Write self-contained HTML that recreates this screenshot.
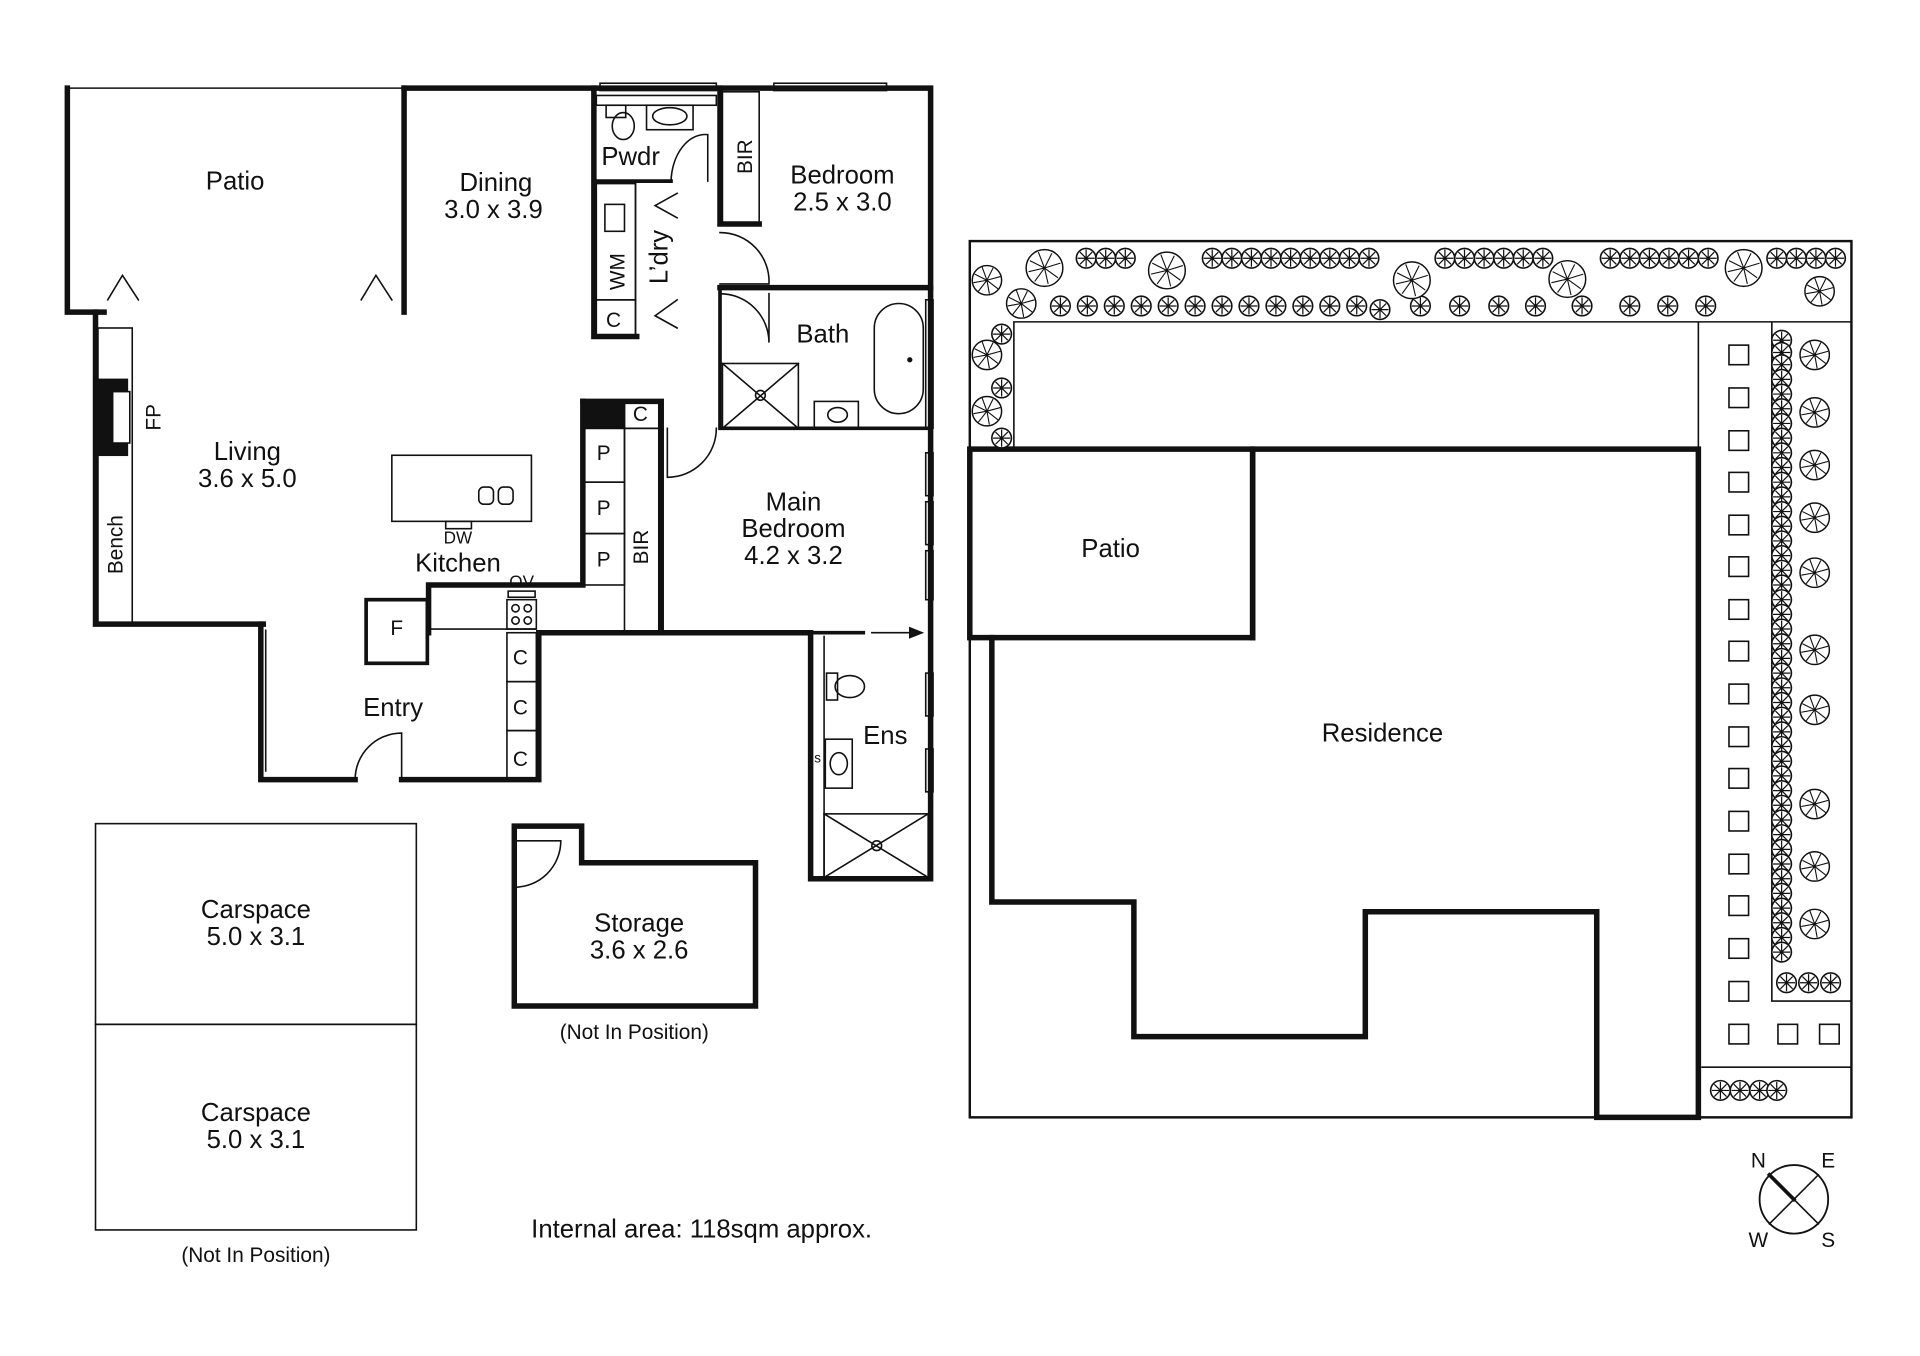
<!DOCTYPE html>
<html><head><meta charset="utf-8"><style>
html,body{margin:0;padding:0;background:#fff;}
svg{display:block}
text{font-family:"Liberation Sans",sans-serif;fill:#111;}
</style></head><body>
<svg width="1920" height="1356" viewBox="0 0 1568 1108" preserveAspectRatio="none" xmlns="http://www.w3.org/2000/svg">
<defs>
<g id="ts"><circle r="8" fill="#fff" stroke="#111" stroke-width="1.3"/><path d="M-7 0H7M0-7V7M-5-5L5 5M-5 5L5-5" stroke="#111" stroke-width="1"/></g>
<g id="tb"><circle r="15" fill="#fff" stroke="#111" stroke-width="1.2"/><path d="M0 0L-12-6M0 0L-5-13M0 0L6-12M0 0L13-4M0 0L11 8M0 0L3 13M0 0L-8 11M0 0L-13 3" stroke="#111" stroke-width="0.9"/></g>
<g id="tm"><circle r="12" fill="#fff" stroke="#111" stroke-width="1.2"/><path d="M0 0L-10-5M0 0L-4-11M0 0L5-10M0 0L11-3M0 0L9 7M0 0L2 11M0 0L-7 9M0 0L-11 2" stroke="#111" stroke-width="0.9"/></g>
</defs>
<g fill="none" stroke="#111" stroke-linecap="square">
<g stroke-width="4.5">
<path d="M55 72V255H85"/>
<path d="M78 255V510H215"/>
<path d="M213 510V637H290"/>
<path d="M328 637H440V517H662V718H760V72H330"/>
<path d="M330 72V255"/>
<path d="M485 72V275H520"/>
<path d="M485 148H548" stroke-width="3"/>
<path d="M588 72V183H620"/>
<path d="M588 235H760"/>
<path d="M588 235V350H760" stroke-width="3"/>
<path d="M476 328H540V517"/>
<path d="M476 328V478H350V517"/>
<path d="M662 517H705" stroke-width="3"/>
</g>
<g stroke-width="1.3">
<path d="M55 72H330"/>
<rect x="80" y="268" width="28" height="242"/>
<rect x="78" y="310" width="26" height="62" fill="#111"/>
<rect x="92" y="320" width="14" height="42" fill="#fff"/>
<path d="M88 245L100 225L113 245M295 245L307 225L320 245"/>
<rect x="476" y="328" width="34" height="22" fill="#111"/>
<rect x="510" y="328" width="28" height="22"/>
<rect x="476" y="350" width="34" height="44"/><rect x="476" y="394" width="34" height="42"/><rect x="476" y="436" width="34" height="42"/>
<rect x="510" y="350" width="28" height="167"/>
<rect x="320" y="372" width="114" height="54"/>
<rect x="391" y="398" width="12" height="14" rx="4"/><rect x="407" y="398" width="12" height="14" rx="4"/>
<rect x="364" y="426" width="21" height="6"/>
<rect x="299" y="490" width="50" height="52" stroke-width="3"/>
<rect x="414" y="490" width="24" height="24"/><circle cx="421" cy="497" r="3"/><circle cx="431" cy="497" r="3"/><circle cx="421" cy="507" r="3"/><circle cx="431" cy="507" r="3"/>
<rect x="415" y="483" width="22" height="5"/>
<rect x="414" y="517" width="24" height="40"/><rect x="414" y="557" width="24" height="40"/><rect x="414" y="597" width="24" height="40"/>
<path d="M213 515V630M217 515V630"/>
<path d="M290 637A38 38 0 0 1 328 599V637"/>
<rect x="487" y="78" width="98" height="8"/><rect x="632" y="68" width="92" height="6"/><rect x="490" y="68" width="95" height="6"/>
<rect x="495" y="86" width="16" height="10"/><ellipse cx="509" cy="103" rx="9" ry="11"/>
<rect x="528" y="86" width="38" height="20"/><ellipse cx="547" cy="95" rx="14" ry="7"/>
<path d="M548 148A28 40 0 0 1 578 110V148"/>
<rect x="487" y="150" width="32" height="95"/><rect x="487" y="245" width="32" height="30"/>
<rect x="494" y="167" width="16" height="22"/>
<path d="M519 150V275"/>
<path d="M553 158L535 168L553 178M553 245L535 258L553 268"/>
<rect x="590" y="75" width="30" height="108"/>
<path d="M588 190A40 40 0 0 1 628 232H588M588 240A40 40 0 0 1 628 280V240M588 280V340"/>
<rect x="590" y="297" width="62" height="53"/><path d="M590 297L652 350M652 297L590 350"/><circle cx="621" cy="323" r="4"/>
<rect x="714" y="248" width="40" height="90" rx="20"/><circle cx="743" cy="294" r="1.5" fill="#111"/>
<rect x="665" y="328" width="36" height="22"/><ellipse cx="684" cy="339" rx="8" ry="6"/>
<rect x="756" y="245" width="6" height="105"/>
<path d="M545 350V390A40 40 0 0 0 585 350"/>
<rect x="756" y="370" width="6" height="35"/><rect x="756" y="410" width="6" height="35"/><rect x="756" y="450" width="6" height="40"/>
<rect x="756" y="550" width="6" height="35"/><rect x="756" y="612" width="6" height="35"/>
<path d="M712 517H745"/><path d="M743 513L753 517L743 521Z" fill="#111"/>
<path d="M673 520V718"/>
<rect x="675" y="550" width="9" height="22"/><ellipse cx="694" cy="561" rx="12" ry="9"/>
<rect x="674" y="604" width="22" height="40"/><ellipse cx="685" cy="624" rx="7" ry="9"/>
<rect x="673" y="665" width="85" height="52"/><path d="M673 665L758 717M758 665L673 717"/><circle cx="716" cy="691" r="4"/>
<path d="M350 514H437"/>
</g>
<g stroke-width="1.3"><rect x="78" y="673" width="262" height="164"/><rect x="78" y="837" width="262" height="168"/></g>
<path d="M420 675H475V705H617V822H420Z" stroke-width="4.5"/>
<path d="M420 725A38 38 0 0 0 458 687H420" stroke-width="1.3"/>
<g stroke-width="1.3">
<rect x="792" y="197" width="720" height="716" stroke-width="2"/>
<path d="M828 367V263H1387V913M1447 263V818H1512M1390 872H1512M1387 263H1512"/>
<path d="M792 367H1023"/>
</g>
<path d="M792 367H1023V521H792Z" stroke-width="4.5"/>
<path d="M1023 521V367H1387V913H1304V745H1115V847H926V737H810V521" stroke-width="4.5"/>
<g stroke-width="1.3">
<rect x="1412" y="282" width="16" height="16"/><rect x="1412" y="317" width="16" height="16"/><rect x="1412" y="352" width="16" height="16"/><rect x="1412" y="386" width="16" height="16"/><rect x="1412" y="421" width="16" height="16"/><rect x="1412" y="455" width="16" height="16"/><rect x="1412" y="490" width="16" height="16"/><rect x="1412" y="524" width="16" height="16"/><rect x="1412" y="559" width="16" height="16"/><rect x="1412" y="594" width="16" height="16"/><rect x="1412" y="628" width="16" height="16"/><rect x="1412" y="663" width="16" height="16"/><rect x="1412" y="698" width="16" height="16"/><rect x="1412" y="732" width="16" height="16"/><rect x="1412" y="767" width="16" height="16"/><rect x="1412" y="802" width="16" height="16"/><rect x="1412" y="837" width="16" height="16"/><rect x="1452" y="837" width="16" height="16"/><rect x="1486" y="837" width="16" height="16"/>
</g>
<circle cx="1465" cy="980" r="28" stroke-width="1.5"/><path d="M1445 960L1485 1000M1485 960L1445 1000" stroke-width="1.3"/><path d="M1445 960L1465 980" stroke-width="3"/>
</g>
<g>
<use href="#ts" x="887" y="211"/><use href="#ts" x="903" y="211"/><use href="#ts" x="919" y="211"/>
<use href="#ts" x="990" y="211"/><use href="#ts" x="1006" y="211"/><use href="#ts" x="1022" y="211"/><use href="#ts" x="1038" y="211"/><use href="#ts" x="1054" y="211"/><use href="#ts" x="1070" y="211"/><use href="#ts" x="1086" y="211"/><use href="#ts" x="1102" y="211"/><use href="#ts" x="1118" y="211"/>
<use href="#ts" x="1180" y="211"/><use href="#ts" x="1196" y="211"/><use href="#ts" x="1212" y="211"/><use href="#ts" x="1228" y="211"/><use href="#ts" x="1244" y="211"/><use href="#ts" x="1260" y="211"/>
<use href="#ts" x="1315" y="211"/><use href="#ts" x="1331" y="211"/><use href="#ts" x="1347" y="211"/><use href="#ts" x="1363" y="211"/><use href="#ts" x="1379" y="211"/><use href="#ts" x="1395" y="211"/>
<use href="#ts" x="1451" y="211"/><use href="#ts" x="1467" y="211"/><use href="#ts" x="1483" y="211"/><use href="#ts" x="1499" y="211"/>
<use href="#ts" x="866" y="250"/><use href="#ts" x="888" y="250"/><use href="#ts" x="910" y="250"/><use href="#ts" x="932" y="250"/><use href="#ts" x="954" y="250"/><use href="#ts" x="976" y="250"/><use href="#ts" x="998" y="250"/><use href="#ts" x="1020" y="250"/><use href="#ts" x="1042" y="250"/><use href="#ts" x="1064" y="250"/><use href="#ts" x="1086" y="250"/><use href="#ts" x="1108" y="250"/>
<use href="#ts" x="1127" y="253"/><use href="#ts" x="1160" y="250"/><use href="#ts" x="1192" y="250"/><use href="#ts" x="1224" y="250"/><use href="#ts" x="1254" y="250"/><use href="#ts" x="1292" y="250"/><use href="#ts" x="1331" y="250"/><use href="#ts" x="1362" y="250"/><use href="#ts" x="1393" y="250"/>
<use href="#tm" x="834" y="248"/><use href="#tm" x="806" y="229"/><use href="#tm" x="1486" y="238"/>
<use href="#ts" x="818" y="273"/><use href="#tm" x="806" y="290"/><use href="#ts" x="818" y="317"/><use href="#tm" x="806" y="336"/><use href="#ts" x="818" y="358"/>
<use href="#tb" x="853" y="219"/><use href="#tb" x="953" y="221"/><use href="#tb" x="1153" y="229"/><use href="#tb" x="1280" y="228"/><use href="#tb" x="1424" y="219"/>
<use href="#ts" x="1455" y="278"/><use href="#ts" x="1455" y="288"/><use href="#ts" x="1455" y="298"/><use href="#ts" x="1455" y="310"/><use href="#ts" x="1455" y="322"/><use href="#ts" x="1455" y="334"/><use href="#ts" x="1455" y="346"/><use href="#ts" x="1455" y="358"/><use href="#ts" x="1455" y="370"/><use href="#ts" x="1455" y="382"/><use href="#ts" x="1455" y="394"/><use href="#ts" x="1455" y="406"/><use href="#ts" x="1455" y="418"/><use href="#ts" x="1455" y="430"/><use href="#ts" x="1455" y="442"/><use href="#ts" x="1455" y="454"/><use href="#ts" x="1455" y="466"/><use href="#ts" x="1455" y="478"/><use href="#ts" x="1455" y="490"/><use href="#ts" x="1455" y="502"/><use href="#ts" x="1455" y="514"/><use href="#ts" x="1455" y="526"/><use href="#ts" x="1455" y="538"/><use href="#ts" x="1455" y="550"/><use href="#ts" x="1455" y="562"/><use href="#ts" x="1455" y="574"/><use href="#ts" x="1455" y="586"/><use href="#ts" x="1455" y="598"/><use href="#ts" x="1455" y="610"/><use href="#ts" x="1455" y="622"/><use href="#ts" x="1455" y="634"/><use href="#ts" x="1455" y="646"/><use href="#ts" x="1455" y="658"/><use href="#ts" x="1455" y="670"/><use href="#ts" x="1455" y="682"/><use href="#ts" x="1455" y="694"/><use href="#ts" x="1455" y="706"/><use href="#ts" x="1455" y="718"/><use href="#ts" x="1455" y="730"/><use href="#ts" x="1455" y="742"/><use href="#ts" x="1455" y="754"/><use href="#ts" x="1455" y="766"/><use href="#ts" x="1455" y="778"/>
<use href="#ts" x="1459" y="803"/><use href="#ts" x="1477" y="803"/><use href="#ts" x="1495" y="803"/>
<use href="#tm" x="1482" y="290"/><use href="#tm" x="1482" y="337"/><use href="#tm" x="1482" y="380"/><use href="#tm" x="1482" y="423"/><use href="#tm" x="1482" y="468"/><use href="#tm" x="1482" y="531"/><use href="#tm" x="1482" y="580"/><use href="#tm" x="1482" y="657"/><use href="#tm" x="1482" y="708"/><use href="#tm" x="1482" y="755"/>
<use href="#ts" x="1405" y="891"/><use href="#ts" x="1421" y="891"/><use href="#ts" x="1437" y="891"/><use href="#ts" x="1451" y="891"/>
</g>
<g font-size="21" text-anchor="middle">
<text x="192" y="155">Patio</text>
<text x="405" y="156">Dining</text><text x="403" y="178">3.0 x 3.9</text>
<text x="515" y="135">Pwdr</text>
<text x="688" y="150">Bedroom</text><text x="688" y="172">2.5 x 3.0</text>
<text x="672" y="280">Bath</text>
<text x="202" y="376">Living</text><text x="202" y="398">3.6 x 5.0</text>
<text x="374" y="467">Kitchen</text>
<text x="648" y="417">Main</text><text x="648" y="439">Bedroom</text><text x="648" y="461">4.2 x 3.2</text>
<text x="321" y="585">Entry</text>
<text x="723" y="608">Ens</text>
<text x="209" y="750">Carspace</text><text x="209" y="772">5.0 x 3.1</text>
<text x="209" y="916">Carspace</text><text x="209" y="938">5.0 x 3.1</text>
<text x="522" y="761">Storage</text><text x="522" y="783">3.6 x 2.6</text>
<text x="907" y="455">Patio</text>
<text x="1129" y="606">Residence</text>
<text x="573" y="1011">Internal area:  118sqm approx.</text>
</g>
<g font-size="17" text-anchor="middle">
<text x="324" y="519">F</text>
<text x="523" y="344">C</text>
<text x="493" y="376">P</text><text x="493" y="421">P</text><text x="493" y="463">P</text>
<text x="425" y="543">C</text><text x="425" y="584">C</text><text x="425" y="626">C</text>
<text x="501" y="267">C</text>
<text x="518" y="849">(Not In Position)</text>
<text x="209" y="1031">(Not In Position)</text>
<text x="1436" y="954">N</text><text x="1493" y="954">E</text><text x="1436" y="1019">W</text><text x="1493" y="1019">S</text>
</g>
<g font-size="14" text-anchor="middle">
<text x="374" y="444">DW</text><text x="426" y="480">OV</text>
</g>
<text font-size="11" x="665" y="623">s</text>
<g font-size="17" text-anchor="middle">
<text transform="translate(131,341) rotate(-90)">FP</text>
<text transform="translate(100,445) rotate(-90)">Bench</text>
<text transform="translate(510,222) rotate(-90)">WM</text>
<text transform="translate(614,128) rotate(-90)">BIR</text>
<text transform="translate(529,447) rotate(-90)">BIR</text>
</g>
<text font-size="21" text-anchor="middle" transform="translate(545,210) rotate(-90)">L’dry</text>
</svg>
</body></html>
